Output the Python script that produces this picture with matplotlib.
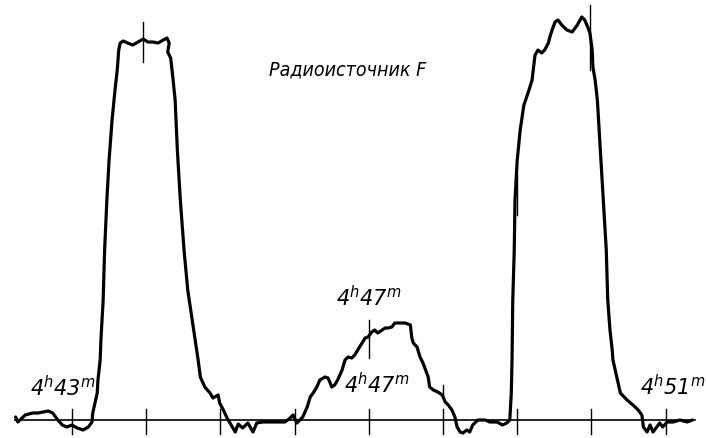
import matplotlib
matplotlib.use("Agg")
import matplotlib.pyplot as plt

plt.rcParams['mathtext.fontset'] = 'custom'
plt.rcParams['mathtext.rm'] = 'DejaVu Sans:oblique'
plt.rcParams['mathtext.it'] = 'DejaVu Sans:oblique'

# time in minutes after 4h (x) and recorder deflection (arbitrary units)
t_min = [42.24, 42.27, 42.37, 42.47, 42.54, 42.61, 42.68, 42.74, 42.81, 42.87, 42.93, 43.00, 43.07,
         43.15, 43.22, 43.27, 43.28, 43.31, 43.34, 43.35, 43.38, 43.39, 43.42, 43.44, 43.47, 43.50,
         43.54, 43.58, 43.61, 43.63, 43.65, 43.69, 43.75, 43.82, 43.89, 43.96, 44.02, 44.09, 44.16,
         44.23, 44.28, 44.31, 44.29, 44.33, 44.36, 44.39, 44.42, 44.46, 44.51, 44.56, 44.62, 44.67,
         44.70, 44.73, 44.79, 44.86, 44.90, 44.97, 44.99, 45.04, 45.09, 45.16, 45.20, 45.24, 45.30,
         45.37, 45.44, 45.49, 45.57, 45.67, 45.76, 45.87, 45.94, 45.98, 46.03, 46.07, 46.11, 46.17,
         46.21, 46.25, 46.30, 46.34, 46.41, 46.45, 46.48, 46.50, 46.54, 46.58, 46.64, 46.68, 46.72,
         46.77, 46.81, 46.85, 46.91, 46.95, 46.99, 47.04, 47.08, 47.12, 47.18, 47.22, 47.26, 47.31,
         47.35, 47.42, 47.49, 47.56, 47.58, 47.60, 47.65, 47.69, 47.73, 47.80, 47.82, 47.87, 47.93,
         47.99, 48.03, 48.07, 48.12, 48.16, 48.19, 48.23, 48.27, 48.32, 48.36, 48.40, 48.47, 48.57,
         48.63, 48.73, 48.80, 48.86, 48.90, 48.92, 48.93, 48.94, 48.96, 48.97, 49.00, 49.04, 49.09,
         49.15, 49.20, 49.24, 49.28, 49.33, 49.37, 49.42, 49.44, 49.47, 49.51, 49.55, 49.60, 49.67,
         49.74, 49.81, 49.87, 49.91, 49.95, 49.98, 50.01, 50.02, 50.05, 50.08, 50.12, 50.16, 50.20,
         50.22, 50.25, 50.28, 50.29, 50.35, 50.39, 50.48, 50.56, 50.63, 50.68, 50.70, 50.75, 50.79,
         50.83, 50.88, 50.92, 50.96, 51.02, 51.10, 51.19, 51.29, 51.36]
amp = [3, -2, 5, 7, 7, 8, 9, 7, 0, -5, -7, -5, -8,
       -10, -7, -2, 7, 17, 27, 40, 60, 80, 120, 170, 220, 260,
       300, 330, 350, 370, 377, 379, 377, 375, 378, 381, 378, 378, 377,
       380, 382, 377, 368, 362, 342, 320, 270, 220, 170, 130, 100, 75,
       60, 43, 33, 27, 22, 25, 17, 10, 2, -7, -12, -4, -8,
       -3, -12, -3, -2, -2, -2, -2, 2, 5, -3, 0, 3, 13,
       23, 27, 33, 40, 43, 42, 37, 33, 35, 40, 50, 60, 63,
       62, 65, 70, 77, 82, 83, 88, 90, 87, 90, 92, 92, 93,
       97, 97, 97, 95, 82, 77, 73, 63, 57, 43, 33, 30, 28,
       25, 18, 15, 10, 3, -7, -12, -13, -10, -12, -5, 0, 0,
       -2, -2, -5, -3, 0, 27, 60, 120, 170, 220, 260, 290, 315,
       328, 340, 365, 370, 367, 370, 377, 383, 390, 398, 400, 395, 390,
       388, 395, 403, 400, 393, 387, 370, 353, 340, 320, 270, 220, 170,
       120, 90, 70, 60, 40, 27, 20, 15, 10, 5, -7, -12, -5,
       -12, -7, -3, -7, -2, -2, 0, -2, 0]

baseline_start, baseline_end = 42.23, 51.40
tick_minutes = [43, 44, 45, 46, 47, 48, 49, 50, 51]
# marks drawn across the trace: (minute, bottom, top)
trace_marks = [(43.96, 358, 398), (47.0, 62, 100), (48.0, 22, 35), (49.0, 205, 245), (49.98, 350, 415)]

title = "Радиоисточник F"
time_labels = [(42.87, 32, r"$4^{h}43^{m}$"),
               (47.0, 122, r"$4^{h}47^{m}$"),
               (47.1, 35, r"$4^{h}47^{m}$"),
               (51.1, 33, r"$4^{h}51^{m}$")]

fig = plt.figure(figsize=(7.06, 4.38), dpi=100)
ax = fig.add_axes([0, 0, 1, 1])
ax.set_xlim(42.03, 51.544)
ax.set_ylim(-18, 420)
ax.axis('off')

ax.plot([baseline_start, baseline_end], [0, 0], color='black', lw=1.2)
for m in tick_minutes:
    ax.plot([m, m], [-14, 11], color='black', lw=1.0)
for m, lo, hi in trace_marks:
    ax.plot([m, m], [lo, hi], color='black', lw=1.0)

ax.plot(t_min, amp, color='black', lw=2.3, solid_joinstyle='round', solid_capstyle='round')

ax.text(46.71, 350, title, ha='center', va='center', fontsize=14,
        family='DejaVu Sans', style='oblique', fontstretch='condensed')
for x, y, s in time_labels:
    ax.text(x, y, s, ha='center', va='center', fontsize=15)

fig.savefig('out.png', dpi=100)
